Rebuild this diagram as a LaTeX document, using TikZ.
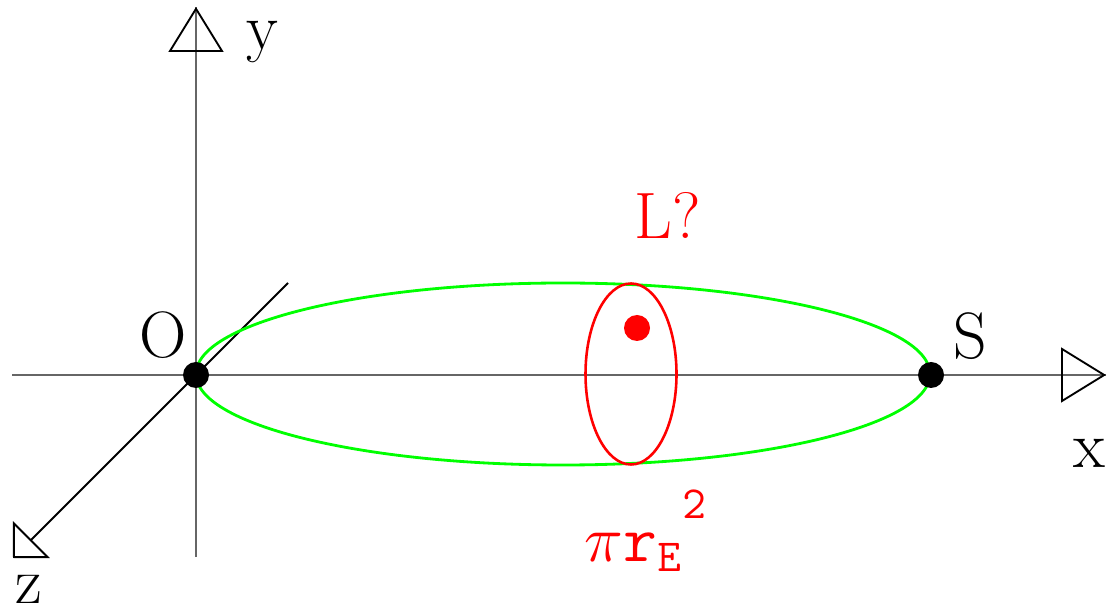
\documentclass[tikz,border=0pt]{standalone}
\usepackage{fix-cm}
\usetikzlibrary{arrows.meta}
\begin{document}
\begin{tikzpicture}[x=0.015cm, y=-0.015cm,
  ax/.style={black!60, line width=1.2pt},
  hd/.style={black, line width=0.8pt, -{Triangle[open, length=0.675cm, width=0.825cm]}},
  zh/.style={black, line width=0.8pt, -{Triangle[open, length=0.39cm, width=0.78cm]}},
  pt/.style={circle, fill=black, inner sep=0pt, minimum size=0.39cm},
  lb/.style={font=\fontsize{28}{32}\selectfont, inner sep=0pt},
  gr/.style={green, line width=1.2pt},
  rd/.style={red, line width=1.1pt}]
\useasboundingbox (0,0) rectangle (1107,611);
% axes
\coordinate (ytip) at (196,7);
\coordinate (yb) at (196,50);
\coordinate (ylo) at (196,557);
\coordinate (xlo) at (12,375);
\coordinate (xtip) at (1106,375);
\coordinate (xb) at (1063,375);
\coordinate (zhi) at (288,283);
\coordinate (ztip) at (13,558);
\draw[zh] (zhi) -- (ztip);
\draw[ax] (ylo) -- (ytip);
\draw[ax] (xlo) -- (xtip);
\draw[hd] (yb) -- (ytip);
\draw[hd] (xb) -- (xtip);
% orbit and cross section
\coordinate (c) at (563,374);
\coordinate (e) at (631,374);
\draw[gr] (c) ellipse [x radius=367, y radius=91];
\draw[rd] (e) ellipse [x radius=45.5, y radius=90.5];
\node[circle, fill=red, inner sep=0pt, minimum size=0.39cm] (L) at (637,328) {};
% points
\node[pt] (O) at (196,375) {};
\node[pt] (S) at (931,375) {};
% labels
\node[lb] (ly) at (262,42) {y};
\node[lb] (lz) at (29,589) {z};
\node[lb] (lx) at (1089,453) {x};
\node[lb] (lO) at (163,335) {O};
\node[lb] (lS) at (970,336) {S};
\node[lb, red] (lL) at (668,215) {L?};
\node[lb, red] (lA) at (646,531) {$\pi\mathtt{r}_{\mathtt{E}}{}^{\raisebox{0.3em}{$\scriptstyle\mathtt{2}$}}$};
\end{tikzpicture}
\end{document}
